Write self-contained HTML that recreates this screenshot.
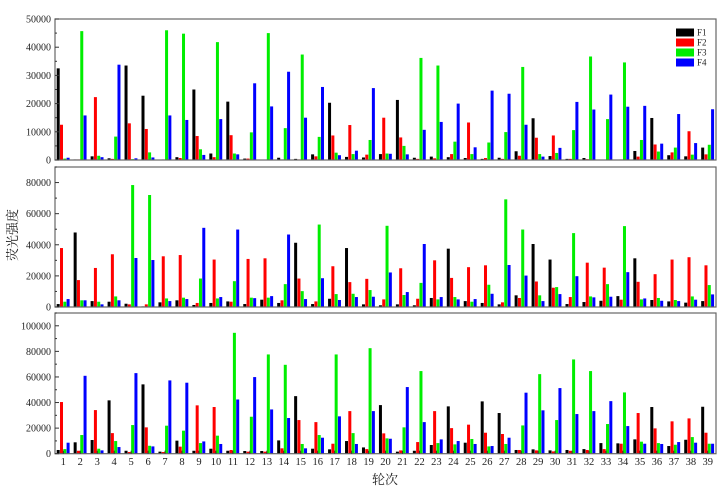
<!DOCTYPE html>
<html><head><meta charset="utf-8"><style>
body{margin:0;background:#fff;}
svg{display:block;font-family:"Liberation Serif","Noto Serif CJK SC",serif;}
</style></head><body>
<svg id="c" width="723" height="489"></svg>
<script>
const categories=[];for(let i=1;i<=39;i++)categories.push(String(i));
const seriesNames=["F1","F2","F3","F4"];
const colors=["#000000","#ff0000","#00ee00","#0000ff"];
const p1F1=[32500,200,1300,600,33500,22800,100,1000,25000,2300,20700,500,100,800,400,2000,20300,1100,900,2100,21300,800,1200,1000,700,400,800,3100,14800,1400,400,700,100,100,3200,14900,1700,1300,4400];
const p1F2=[12500,200,22300,400,13000,11000,200,700,8500,1000,8800,500,100,200,200,1300,8700,12400,1900,15000,8000,400,600,2100,13300,700,400,1500,7900,8700,400,300,100,200,1200,5500,2700,10200,2000];
const p1F3=[500,45700,1500,8300,300,2700,46000,44800,3800,41800,2300,9800,45000,11300,37400,8200,2600,2100,7100,2300,5000,36200,33500,6500,2100,6200,9900,33000,2100,2500,10600,36700,14500,34600,7100,3000,4400,1900,5400];
const p1F4=[800,15800,1000,33800,600,900,15800,14200,1800,14500,2000,27200,19000,31300,15000,25900,1700,3300,25500,2200,2000,10700,13500,20000,4500,24600,23500,12500,1200,4300,20600,17900,23200,18900,19200,5800,16300,6000,18000];
const p2F1=[1900,47900,3800,3400,2100,400,3000,4300,1300,2600,3600,1900,4700,2600,41300,1900,5300,37900,1700,1100,1700,1100,5800,37500,3800,2600,1700,7500,40500,30500,1900,3200,4000,7000,31300,4500,3600,2800,3800];
const p2F2=[37900,17300,25100,33900,1700,1700,32600,33400,2600,30500,3400,30900,31300,4300,18300,3600,26200,16000,18100,4900,24900,5300,30000,18700,25600,26800,3000,5800,16400,12400,6400,28500,25300,4700,16200,21100,30500,32000,26800];
const p2F3=[3400,4300,3400,6800,78400,72000,5500,6000,18300,5500,16600,6000,6000,14700,10200,53000,8300,8500,10900,52200,7700,15500,4900,6400,3400,14300,69200,49800,7500,12800,47500,6800,14700,52000,4900,5800,4500,6800,14100];
const p2F4=[5100,4300,1700,4300,31500,30200,3800,5100,50900,6400,49800,5700,7000,46600,5100,18500,4500,6400,6600,22200,9600,40500,6400,4900,5100,8500,27000,20200,3800,8300,19800,6200,6600,22400,5500,4000,3800,4700,8100];
const p3F1=[2900,8900,10700,41700,2300,54200,1600,10200,2300,3900,2300,2100,2100,10400,45000,3900,3400,9900,4900,38000,1600,2300,6800,37000,8600,40900,31800,2900,3400,2600,2900,3600,8300,8100,11200,36500,6000,10900,36700];
const p3F2=[40400,2300,34100,16100,1300,20600,1300,5500,37800,36500,2900,1600,1600,4200,26300,24700,7800,33300,3600,15900,2600,9100,33300,20000,22700,16400,15400,2900,2600,1800,2300,2900,3600,7800,31800,19800,25300,27600,16400];
const p3F3=[3600,14600,3900,9900,22400,6200,21900,18000,8300,14100,94500,28900,77600,69500,7600,14600,77600,16100,82500,12000,20600,64600,8300,7300,11500,5700,7600,22100,62200,26300,73700,64600,23200,47900,9400,8300,7000,13000,7800];
const p3F4=[8600,60900,2600,5200,63000,5700,57300,55500,9600,7600,42400,59900,34600,27900,4200,12500,29200,7600,33300,11700,52100,24700,11200,9900,7600,6000,12500,47700,33900,51300,31000,33300,41100,21600,7800,7600,9100,8600,7800];
const p1Ticks=["0","10000","20000","30000","40000","50000"];
const p2Ticks=["0","20000","40000","60000","80000"];
const p3Ticks=["0","20000","40000","60000","80000","100000"];

const svg=document.getElementById('c');const NS="http://www.w3.org/2000/svg";
function mk(t,a,p){const e=document.createElementNS(NS,t);for(const k in a)e.setAttribute(k,a[k]);(p||svg).appendChild(e);return e;}
const X0=55,X1=716,step=16.96,c0=63.3,bw=3.3;
function xc(i){return c0+i*step;}
const panels=[
 {top:19,bot:160,max:50000,tickStep:10000,ticks:p1Ticks,data:[p1F1,p1F2,p1F3,p1F4]},
 {top:167,bot:307,max:90000,tickStep:20000,ticks:p2Ticks,data:[p2F1,p2F2,p2F3,p2F4]},
 {top:313,bot:453.7,max:110000,tickStep:20000,ticks:p3Ticks,data:[p3F1,p3F2,p3F3,p3F4]}
];
panels.forEach((P,pi)=>{
 const g=mk('g',{});
 
 
 const y=v=>P.bot-v/P.max*(P.bot-P.top);
 P.data.forEach((arr,s)=>{arr.forEach((v,i)=>{
  const r=mk('rect',{x:xc(i)-6.6+s*bw,y:y(v),width:bw-0.3,height:Math.max(0,P.bot-y(v)),fill:colors[s]},g);
  
  
 });});
 const f=mk('rect',{x:X0,y:P.top,width:X1-X0,height:P.bot-P.top,fill:'none',stroke:'#666',"stroke-width":1.2},g);
 
 
 P.ticks.forEach((t,k)=>{
  const v=k*P.tickStep,yy=y(v);
  mk('line',{x1:X0,x2:X0+4,y1:yy,y2:yy,stroke:'#333'},g);
  if(v+P.tickStep/2<=P.max){const ym=y(v+P.tickStep/2);mk('line',{x1:X0,x2:X0+2,y1:ym,y2:ym,stroke:'#333'},g);}
  const tx=mk('text',{x:X0-4,y:yy+3.5,"font-size":10,"text-anchor":"end",fill:'#222'},g);tx.textContent=t;
  
  
 });
 if(pi===2){categories.forEach((c,i)=>{
  mk('line',{x1:xc(i),x2:xc(i),y1:P.bot,y2:P.bot-3,stroke:'#333'},g);
  const tx=mk('text',{x:xc(i),y:465,"font-size":10.5,"text-anchor":"middle",fill:'#222'},g);tx.textContent=c;
  
  
 });}
});
const xt=mk('text',{x:385,y:484,"font-size":13,"text-anchor":"middle",fill:'#222'});xt.textContent='轮次';


const yt=mk('text',{x:0,y:0,"font-size":13,"text-anchor":"middle",fill:'#222',transform:'translate(17,235) rotate(-90)'});yt.textContent='荧光强度';


const lg=mk('g',{});


seriesNames.forEach((n,s)=>{
 mk('rect',{x:676,y:28.5+s*10,width:18,height:8,fill:colors[s]},lg);
 const t=mk('text',{x:697,y:35.5+s*10,"font-size":9,fill:'#222'},lg);t.textContent=n;
 
 
});
</script>
</body></html>
